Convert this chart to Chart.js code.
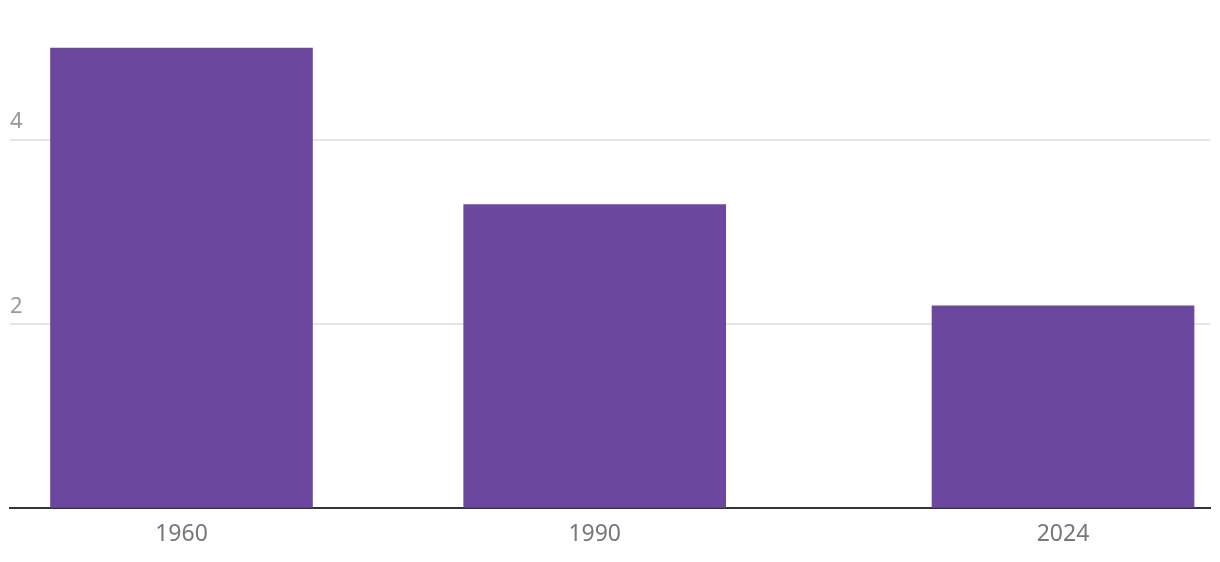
<!DOCTYPE html>
<html>
<head>
<meta charset="utf-8">
<script src="https://cdn.jsdelivr.net/npm/chart.js@4/dist/chart.umd.min.js"></script>
<style>
    html, body { margin: 0; padding: 0; background: #fff; }
    #wrap { width: 1220px; height: 562px; }
</style>
</head>
<body>
<div id="wrap"><canvas id="bar-chart"></canvas></div>
<script>
const years = [1960, 1990, 2024];
const values = [5.0, 3.3, 2.2];
const yTicks = [0, 2, 4];

const barColor = '#6c47a0';

new Chart(document.getElementById('bar-chart'), {
    type: 'bar',
    data: {
        datasets: [
            {
                data: years.map((year, i) => ({ x: year, y: values[i] })),
                backgroundColor: barColor,
                barThickness: 262
            }
        ]
    },
    options: {
        responsive: true,
        maintainAspectRatio: false,
        animation: false,
        layout: {
            padding: { left: 10, right: 10, top: 2, bottom: 2 }
        },
        plugins: {
            legend: { display: false },
            tooltip: { enabled: false }
        },
        scales: {
            x: {
                type: 'linear',
                offset: false,
                min: 1947.55,
                max: 2034.67,
                afterBuildTicks: axis => {
                    axis.ticks = years.map(v => ({ value: v }));
                },
                grid: { display: false, drawTicks: false, offset: false },
                border: { display: true, color: '#333333', width: 2 },
                ticks: {
                    padding: 12,
                    color: '#777777',
                    font: { family: 'Noto Sans', size: 23 },
                    callback: v => String(v)
                }
            },
            y: {
                min: 0,
                max: 5.38,
                afterBuildTicks: axis => {
                    axis.ticks = yTicks.map(v => ({ value: v }));
                },
                border: { display: false },
                grid: {
                    drawTicks: false,
                    lineWidth: 2,
                    color: ctx => ctx.tick && ctx.tick.value === 0 ? 'rgba(0,0,0,0)' : '#e6e6e6'
                },
                ticks: {
                    mirror: true,
                    padding: 0,
                    labelOffset: -18,
                    color: '#999999',
                    font: { family: 'Noto Sans', size: 22 },
                    callback: v => v === 0 ? '' : String(v)
                }
            }
        }
    }
});
</script>
</body>
</html>
